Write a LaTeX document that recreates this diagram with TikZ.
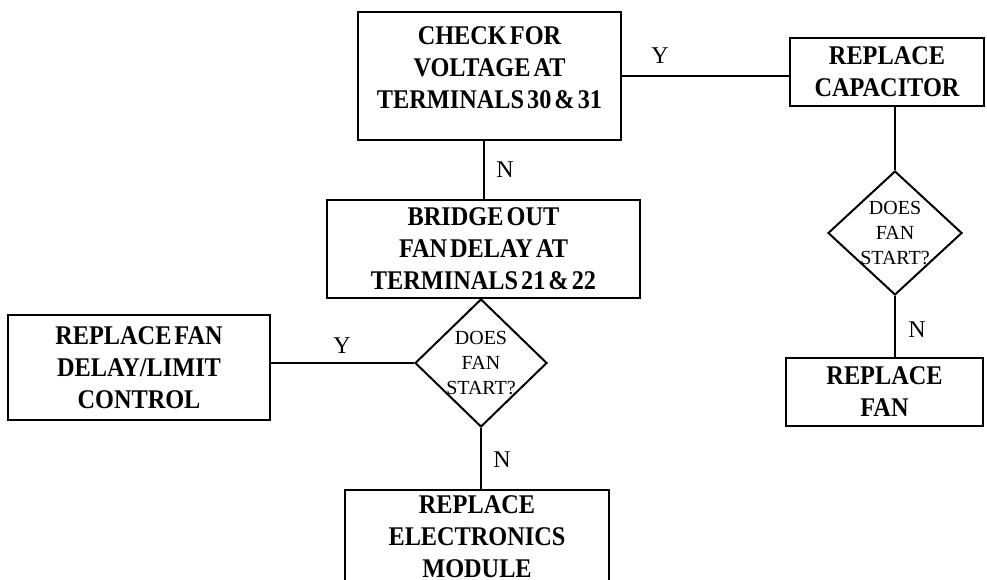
\documentclass[tikz,border=0pt]{standalone}
\usepackage{fontspec}
\setmainfont{Liberation Serif}
\newfontfamily\boxfont{Liberation Serif}[FakeStretch=0.9,WordSpace=0.5]
\usetikzlibrary{shapes.geometric}
\begin{document}
\begin{tikzpicture}[x=1pt,y=-1pt,line width=2pt,
  box/.style={draw,line width=2pt,align=center,inner sep=0pt,
    font=\boxfont\bfseries\fontsize{27}{32}\selectfont},
  dec/.style={draw,diamond,inner sep=0pt,line width=2pt},
  dtext/.style={align=center,inner sep=0pt,font=\fontsize{20}{25}\selectfont},
  lbl/.style={inner sep=0pt,font=\fontsize{24}{28}\selectfont},
  conn/.style={draw,line width=2pt}]
\useasboundingbox (0,0) rectangle (987,580);
\clip (0,0) rectangle (987,580);
\node[box,minimum width=263pt,minimum height=128pt,text depth=16pt] (check) at (489.5,76) {CHECK FOR\\VOLTAGE AT\\TERMINALS 30 \& 31};
\node[box,minimum width=194pt,minimum height=68pt] (cap) at (887,72) {REPLACE\\CAPACITOR};
\node[box,minimum width=313pt,minimum height=98pt] (bridge) at (483.5,249) {BRIDGE OUT\\FAN DELAY AT\\TERMINALS 21 \& 22};
\node[dec,minimum width=132pt,minimum height=128pt] (d1) at (481,363) {};
\node[dtext] (d1t) at (d1) {DOES\\FAN\\START?};
\node[box,minimum width=262pt,minimum height=105pt] (limit) at (139,367.5) {REPLACE FAN\\DELAY/LIMIT\\CONTROL};
\node[box,minimum width=264pt,minimum height=94pt] (module) at (477,537) {REPLACE\\ELECTRONICS\\MODULE};
\node[dec,minimum width=134pt,minimum height=124pt] (d2) at (895,233) {};
\node[dtext] (d2t) at (d2) {DOES\\FAN\\START?};
\node[box,minimum width=197pt,minimum height=68pt,text depth=0pt] (fan) at (884.5,392) {REPLACE\\FAN};
\path[conn] (check.east) -- (check.east -| cap.west);
\path[conn] (bridge.north) -- (bridge.north |- check.south);
\path[conn] (d1.west) -- (d1.west -| limit.east);
\path[conn] (d1.south) -- (d1.south |- module.north);
\path[conn] (d2.north) -- (d2.north |- cap.south);
\path[conn] (d2.south) -- (d2.south |- fan.north);
\node[lbl] (ly1) at (660,56) {Y};
\node[lbl] (ln1) at (505,170) {N};
\node[lbl] (ly2) at (342,346) {Y};
\node[lbl] (ln2) at (502,460) {N};
\node[lbl] (ln3) at (917,330) {N};
\end{tikzpicture}
\end{document}
